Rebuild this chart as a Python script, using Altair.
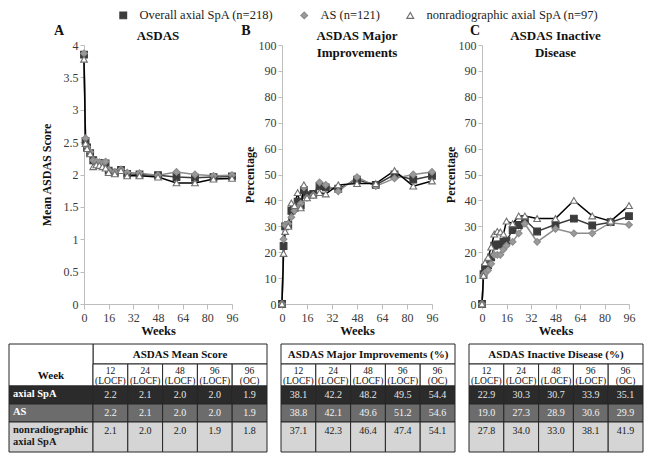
import altair as alt
import pandas as pd

# ---------------- data ----------------
WEEKS = [0, 1, 2, 4, 6, 8, 10, 12, 14, 16, 20, 24, 28, 36, 48, 60, 72, 84, 96]
SERIES = ["Overall axial SpA (n=218)", "AS (n=121)", "nonradiographic axial SpA (n=97)"]

ASDAS_OVERALL = [3.85, 2.52, 2.42, 2.33, 2.22, 2.17, 2.18, 2.15, 2.17, 2.06, 2.03, 2.07, 2.01, 2.00, 1.99, 1.96, 1.95, 1.96, 1.97]
ASDAS_AS = [3.87, 2.56, 2.43, 2.35, 2.22, 2.20, 2.19, 2.17, 2.20, 2.07, 2.04, 2.08, 2.03, 2.02, 1.99, 2.04, 2.00, 1.98, 1.99]
ASDAS_NR = [3.78, 2.48, 2.40, 2.32, 2.12, 2.15, 2.14, 2.12, 2.10, 2.03, 2.01, 2.06, 1.98, 1.98, 1.96, 1.87, 1.87, 1.93, 1.94]

MAJOR_OVERALL = [0, 22.4, 30.0, 30.5, 36.0, 37.0, 39.5, 38.1, 44.0, 42.0, 42.5, 45.5, 45.0, 44.5, 48.0, 46.0, 50.0, 48.0, 49.5]
MAJOR_AS = [0, 25.0, 30.5, 31.0, 33.5, 36.0, 37.0, 38.8, 45.0, 41.0, 42.0, 47.0, 46.0, 43.5, 49.0, 45.5, 48.5, 50.0, 51.0]
MAJOR_NR = [0, 19.5, 28.0, 30.0, 39.0, 38.0, 43.0, 37.1, 46.0, 41.0, 42.0, 43.0, 42.5, 46.0, 46.5, 46.5, 51.5, 45.5, 47.5]

INACT_OVERALL = [0, 11.5, 14.0, 15.0, 18.0, 22.5, 23.0, 22.9, 24.0, 24.5, 28.5, 30.5, 32.5, 28.0, 30.7, 33.0, 30.3, 31.6, 33.9]
INACT_AS = [0, 11.0, 12.0, 13.0, 15.5, 19.0, 19.0, 19.0, 21.0, 22.5, 24.0, 27.3, 31.0, 24.0, 29.0, 27.3, 27.3, 31.4, 30.6]
INACT_NR = [0, 11.0, 16.0, 18.0, 22.0, 27.0, 28.0, 27.8, 27.0, 32.0, 31.0, 34.0, 34.0, 33.0, 33.0, 40.0, 34.0, 32.0, 38.0]

TABLE_COLS = ["12\n(LOCF)", "24\n(LOCF)", "48\n(LOCF)", "96\n(LOCF)", "96\n(OC)"]
TABLE_ROWS = ["axial SpA", "AS", "nonradiographic\naxial SpA"]
MEAN_SCORE = [[2.2, 2.1, 2.0, 2.0, 1.9], [2.2, 2.1, 2.0, 2.0, 1.9], [2.1, 2.0, 2.0, 1.9, 1.8]]
MAJOR_IMPR = [[38.1, 42.2, 48.2, 49.5, 54.4], [38.8, 42.1, 49.6, 51.2, 54.6], [37.1, 42.3, 46.4, 47.4, 54.1]]
INACTIVE = [[22.9, 30.3, 30.7, 33.9, 35.1], [19.0, 27.3, 28.9, 30.6, 29.9], [27.8, 34.0, 33.0, 38.1, 41.9]]

# ---------------- style ----------------
FONT = "Liberation Serif"
LINE_COLORS = ["#3c3c3c", "#8c8c8c", "#000000"]
FILL_COLORS = ["#3c3c3c", "#9a9a9a", "#ffffff"]
STROKE_COLORS = ["#3c3c3c", "#8c8c8c", "#707070"]
SHAPES = ["square", "diamond", "triangle-up"]
ROW_FILLS = ["#2b2b2b", "#6c6c6c", "#d5d5d5"]
ROW_TEXT = ["#e6e6e6", "#f2f2f2", "#1a1a1a"]
AXIS_GRAY = "#bdbdbd"
PH = 259
LEG_TOP = -36

LEG = alt.Legend(orient="none", legendX=33, legendY=LEG_TOP, direction="horizontal", columns=3,
                 title=None, labelFont=FONT, labelFontSize=12.5, labelColor="#222222",
                 labelLimit=400, symbolSize=45, symbolStrokeWidth=1.2, columnPadding=24,
                 labelOffset=10, padding=0)


def long_df(series_values):
    rows = []
    for s, vals in zip(SERIES, series_values):
        for w, v in zip(WEEKS, vals):
            rows.append({"week": w, "value": v, "series": s, "grp": s})
    return pd.DataFrame(rows)


def panel(df, ymax, yvalues, fmt, ytitle, title_text, letter, letter_x, width, title_x, legend):
    x = alt.X("week:Q", scale=alt.Scale(domain=[0, 96], nice=False, zero=False),
              axis=alt.Axis(values=list(range(0, 97, 16)), title="Weeks", titleFont=FONT,
                            titleFontSize=12.5, titleFontWeight="bold", titleColor="#111111",
                            titlePadding=1, labelFont=FONT, labelFontSize=12, labelColor="#3a3a3a",
                            labelPadding=3, tickSize=5, tickColor=AXIS_GRAY, domainColor=AXIS_GRAY,
                            grid=False, labelFlush=False))
    y = alt.Y("value:Q", scale=alt.Scale(domain=[0, ymax], nice=False, zero=True),
              axis=alt.Axis(values=yvalues, format=fmt, title=ytitle, titleX=title_x,
                            titleY=PH / 2, titleAlign="center", titleBaseline="bottom",
                            titleFont=FONT, titleFontSize=12, titleFontWeight="bold",
                            titleColor="#111111", labelFont=FONT, labelFontSize=12,
                            labelColor="#3a3a3a", labelPadding=2, tickSize=4,
                            tickColor=AXIS_GRAY, domainColor=AXIS_GRAY, grid=False))
    lines = alt.Chart(df).mark_line(strokeWidth=1.5).encode(
        x=x, y=y,
        color=alt.Color("grp:N", scale=alt.Scale(domain=SERIES, range=LINE_COLORS), legend=None),
    )
    points = alt.Chart(df).mark_point(size=45, strokeWidth=1.1, opacity=1, fillOpacity=1).encode(
        x=x, y=y,
        shape=alt.Shape("series:N", scale=alt.Scale(domain=SERIES, range=SHAPES), legend=legend),
        fill=alt.Fill("series:N", scale=alt.Scale(domain=SERIES, range=FILL_COLORS), legend=legend),
        stroke=alt.Stroke("series:N", scale=alt.Scale(domain=SERIES, range=STROKE_COLORS), legend=legend),
    )
    lab = alt.Chart(pd.DataFrame({"t": [letter]})).mark_text(
        font=FONT, fontSize=14, fontWeight="bold", color="#111111", align="center", baseline="middle"
    ).encode(text="t:N", x=alt.value(letter_x), y=alt.value(-14))
    ttl = alt.Chart(pd.DataFrame({"t": [title_text]})).mark_text(
        font=FONT, fontSize=13, fontWeight="bold", color="#111111", align="center", baseline="top",
        lineBreak="\n", lineHeight=17
    ).encode(text="t:N", x=alt.value(width / 2), y=alt.value(-15))
    return alt.layer(lines, points, lab, ttl).properties(width=width, height=PH)


COL_W = 34.8
WEEK_W = 84
HDR1, HDR2 = 20, 22
ROW_H = [18, 18, 30]


def table(title, values, week_col):
    ox = WEEK_W if week_col else 0
    W = ox + 5 * COL_W
    H = HDR1 + HDR2 + sum(ROW_H)
    rects, bold_c, hdr2, vals, labels = [], [], [], [], []
    rects.append(dict(x0=ox, x1=W, y0=0, y1=HDR1, f="#ffffff"))
    bold_c.append(dict(xc=(ox + W) / 2, yc=HDR1 / 2 + 1, t=title))
    if week_col:
        rects.append(dict(x0=0, x1=ox, y0=0, y1=HDR1 + HDR2, f="#ffffff"))
        bold_c.append(dict(xc=ox / 2, yc=HDR1 + HDR2 / 2 + 1, t="Week"))
    for j, c in enumerate(TABLE_COLS):
        x0 = ox + j * COL_W
        rects.append(dict(x0=x0, x1=x0 + COL_W, y0=HDR1, y1=HDR1 + HDR2, f="#ffffff"))
        hdr2.append(dict(xc=x0 + COL_W / 2, yc=HDR1 + 1.5, t=c))
    y0 = HDR1 + HDR2
    for i, r in enumerate(TABLE_ROWS):
        y1 = y0 + ROW_H[i]
        if week_col:
            rects.append(dict(x0=0, x1=ox, y0=y0, y1=y1, f=ROW_FILLS[i]))
            labels.append(dict(xc=4, yc=y0 + 2.5, t=r, c="#ffffff" if i < 2 else "#1a1a1a"))
        for j in range(5):
            x0 = ox + j * COL_W
            rects.append(dict(x0=x0, x1=x0 + COL_W, y0=y0, y1=y1, f=ROW_FILLS[i]))
            vals.append(dict(xc=x0 + COL_W / 2, yc=y0 + 3.5, t=f"{values[i][j]:.1f}", c=ROW_TEXT[i]))
        y0 = y1

    XS = alt.Scale(domain=[0, W], nice=False, zero=False)
    YS = alt.Scale(domain=[0, H], nice=False, zero=False, reverse=True)
    base_x = alt.X("xc:Q", scale=XS, axis=None)
    base_y = alt.Y("yc:Q", scale=YS, axis=None)

    r = alt.Chart(pd.DataFrame(rects)).mark_rect(stroke="#262626", strokeWidth=1).encode(
        x=alt.X("x0:Q", scale=XS, axis=None), x2="x1:Q",
        y=alt.Y("y0:Q", scale=YS, axis=None), y2="y1:Q",
        fill=alt.Fill("f:N", scale=None),
    )
    tb = alt.Chart(pd.DataFrame(bold_c)).mark_text(
        font=FONT, fontSize=11, fontWeight="bold", color="#111111", align="center", baseline="middle"
    ).encode(x=base_x, y=base_y, text="t:N")
    th = alt.Chart(pd.DataFrame(hdr2)).mark_text(
        font=FONT, fontSize=9.5, color="#111111", align="center", baseline="top", lineBreak="\n", lineHeight=10
    ).encode(x=base_x, y=base_y, text="t:N")
    tv = alt.Chart(pd.DataFrame(vals)).mark_text(
        font=FONT, fontSize=10, align="center", baseline="top"
    ).encode(x=base_x, y=base_y, text="t:N", color=alt.Color("c:N", scale=None))
    layers = [r, tb, th, tv]
    if week_col:
        tl = alt.Chart(pd.DataFrame(labels)).mark_text(
            font=FONT, fontSize=10.5, fontWeight="bold", align="left", baseline="top", lineBreak="\n", lineHeight=12.5
        ).encode(x=base_x, y=base_y, text="t:N", color=alt.Color("c:N", scale=None))
        layers.append(tl)
    return alt.layer(*layers).properties(width=W, height=H)


pA = panel(long_df([ASDAS_OVERALL, ASDAS_AS, ASDAS_NR]), 4, [0, 0.5, 1, 1.5, 2, 2.5, 3, 3.5, 4], ".1~f",
           "Mean ASDAS Score", "ASDAS", "A", -25, 148, -31, LEG)
pB = panel(long_df([MAJOR_OVERALL, MAJOR_AS, MAJOR_NR]), 100, list(range(0, 101, 10)), "d",
           "Percentage", "ASDAS Major\nImprovements", "B", -36, 150, -26, None)
pC = panel(long_df([INACT_OVERALL, INACT_AS, INACT_NR]), 100, list(range(0, 101, 10)), "d",
           "Percentage", "ASDAS Inactive\nDisease", "C", -7, 147, -25, None)

# invisible anchor that reserves room above the panels for the legend row
spacer = alt.Chart(pd.DataFrame({"a": [0]})).mark_point(opacity=0, size=1).encode(
    x=alt.value(12), y=alt.value(LEG_TOP)).properties(width=25, height=PH)

top = alt.hconcat(spacer, pA, pB, pC, spacing=50, bounds="flush").resolve_scale(
    shape="independent", fill="independent", stroke="independent"
)
bottom = alt.hconcat(
    table("ASDAS Mean Score", MEAN_SCORE, True),
    table("ASDAS Major Improvements (%)", MAJOR_IMPR, False),
    table("ASDAS Inactive Disease (%)", INACTIVE, False),
    spacing=14, bounds="flush",
)

chart = alt.vconcat(top, bottom, spacing=6).configure(
    background="white", padding=0
).configure_view(strokeWidth=0).configure_legend(labelOffset=10, columnPadding=24)

chart.save("out.html", embed_options={"renderer": "svg", "actions": False})
